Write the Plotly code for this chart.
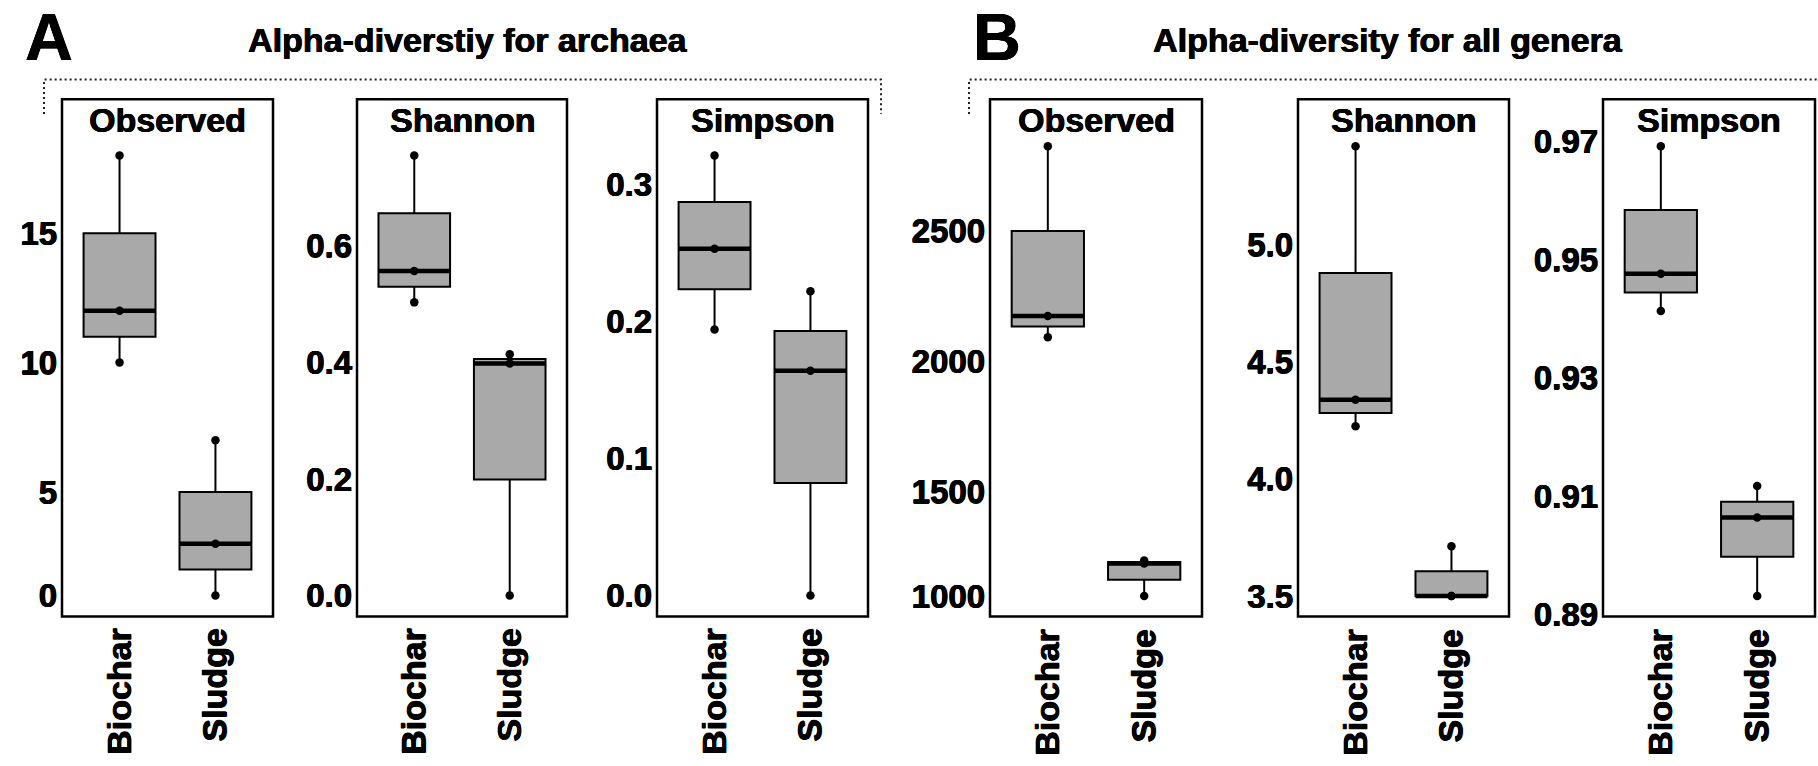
import numpy as np
import plotly.graph_objects as go

W, H = 1818, 766

# ---------------- data (3 samples per group) ----------------
groups = ["Biochar", "Sludge"]
metrics = ["Observed", "Shannon", "Simpson"]

archaea_observed_biochar = [10, 12, 18]
archaea_observed_sludge = [1, 3, 7]
archaea_shannon_biochar = [0.503, 0.557, 0.755]
archaea_shannon_sludge = [0.0, 0.398, 0.414]
archaea_simpson_biochar = [0.194, 0.253, 0.321]
archaea_simpson_sludge = [0.0, 0.164, 0.222]

genera_observed_biochar = [2092, 2173, 2823]
genera_observed_sludge = [1101, 1225, 1237]
genera_shannon_biochar = [4.225, 4.338, 5.42]
genera_shannon_sludge = [3.5, 3.5, 3.712]
genera_simpson_biochar = [0.9413, 0.9476, 0.9692]
genera_simpson_sludge = [0.8931, 0.9064, 0.9117]

# tick labels as printed in the figure
archaea_observed_tickvals = [1, 5, 10, 15]
archaea_observed_ticktext = ["0", "5", "10", "15"]
archaea_shannon_tickvals = [0.0, 0.2, 0.4, 0.6]
archaea_shannon_ticktext = ["0.0", "0.2", "0.4", "0.6"]
archaea_simpson_tickvals = [0.0, 0.1, 0.2, 0.3]
archaea_simpson_ticktext = ["0.0", "0.1", "0.2", "0.3"]
genera_observed_tickvals = [1100, 1500, 2000, 2500]
genera_observed_ticktext = ["1000", "1500", "2000", "2500"]
genera_shannon_tickvals = [3.5, 4.0, 4.5, 5.0]
genera_shannon_ticktext = ["3.5", "4.0", "4.5", "5.0"]
genera_simpson_tickvals = [0.89, 0.91, 0.93, 0.95, 0.97]
genera_simpson_ticktext = ["0.89", "0.91", "0.93", "0.95", "0.97"]

section_letters = ["A", "B"]
section_titles = ["Alpha-diverstiy for archaea", "Alpha-diversity for all genera"]

panels = [
    ("Observed", archaea_observed_biochar, archaea_observed_sludge, archaea_observed_tickvals, archaea_observed_ticktext),
    ("Shannon", archaea_shannon_biochar, archaea_shannon_sludge, archaea_shannon_tickvals, archaea_shannon_ticktext),
    ("Simpson", archaea_simpson_biochar, archaea_simpson_sludge, archaea_simpson_tickvals, archaea_simpson_ticktext),
    ("Observed", genera_observed_biochar, genera_observed_sludge, genera_observed_tickvals, genera_observed_ticktext),
    ("Shannon", genera_shannon_biochar, genera_shannon_sludge, genera_shannon_tickvals, genera_shannon_ticktext),
    ("Simpson", genera_simpson_biochar, genera_simpson_sludge, genera_simpson_tickvals, genera_simpson_ticktext),
]

# ---------------- layout geometry (pixels) ----------------
frames_x = [(62, 273), (357, 567), (657, 868), (990, 1202), (1298, 1509), (1603, 1815)]
frame_top, frame_bottom = 101, 628
plot_top = [136, 136, 136, 126, 126, 126]
plot_bottom = [629, 629, 629, 630, 630, 630]

FONT = "Liberation Sans"
FILL = "#A9A9A9"
HEAVY = "0.6px 0px 0px black, -0.3px 0px 0px black, 0px 0.4px 0px black"


def px(x):
    return x / W


def py(y):
    return 1 - y / H


def bold(size):
    return dict(family=FONT, size=size, color="black", weight="bold", shadow=HEAVY)


fig = go.Figure()
layout_axes = {}
shapes = []
annotations = []

for i, (metric, bio, slu, tv, tt) in enumerate(panels):
    k = i + 1
    xa = "x" if k == 1 else f"x{k}"
    ya = "y" if k == 1 else f"y{k}"
    data = [bio, slu]
    xs, ys = [], []
    for g, vals in enumerate(data):
        xs += [g + 1] * len(vals)
        ys += list(vals)

    fig.add_trace(go.Box(
        x=xs, y=ys, width=0.75, fillcolor=FILL,
        line=dict(color="black", width=2), whiskerwidth=0,
        boxpoints=False, quartilemethod="inclusive",
        xaxis=xa, yaxis=ya, hoverinfo="skip", showlegend=False,
    ))
    for g, vals in enumerate(data):
        med = float(np.median(vals))
        fig.add_trace(go.Scatter(
            x=[g + 1 - 0.375, g + 1 + 0.375], y=[med, med], mode="lines",
            line=dict(color="black", width=4.5), xaxis=xa, yaxis=ya,
            hoverinfo="skip", showlegend=False,
        ))
    fig.add_trace(go.Scatter(
        x=xs, y=ys, mode="markers", marker=dict(color="black", size=8.5),
        xaxis=xa, yaxis=ya, hoverinfo="skip", showlegend=False,
    ))

    lo, hi = min(ys), max(ys)
    pad = 0.05 * (hi - lo)
    l, r = frames_x[i]
    layout_axes["xaxis" if k == 1 else f"xaxis{k}"] = dict(
        domain=[px(l), px(r)], range=[0.4, 2.6], anchor=ya,
        tickmode="array", tickvals=[1, 2], ticktext=groups, tickangle=-90,
        showgrid=False, zeroline=False, showline=False, ticks="",
        ticklabelstandoff=3,
        tickfont=bold(34), fixedrange=True,
    )
    layout_axes["yaxis" if k == 1 else f"yaxis{k}"] = dict(
        domain=[py(plot_bottom[i]), py(plot_top[i])], range=[lo - pad, hi + pad],
        anchor=xa, tickmode="array", tickvals=tv, ticktext=tt,
        showgrid=False, zeroline=False, showline=False, ticks="",
        ticklabelstandoff=4,
        tickfont=bold(33), fixedrange=True,
    )
    shapes.append(dict(type="rect", xref="paper", yref="paper",
                       x0=px(l), x1=px(r), y0=py(frame_bottom), y1=py(frame_top),
                       line=dict(color="black", width=2.5), layer="above"))
    annotations.append(dict(xref="paper", yref="paper", x=px((l + r) / 2), y=py(122),
                            text=metric, showarrow=False, xanchor="center", yanchor="middle",
                            font=bold(34)))

# section letters and titles
letter_x = [49, 997]
title_x = [467, 1388]
for s in range(2):
    annotations.append(dict(xref="paper", yref="paper", x=px(letter_x[s]), y=py(38),
                            text=section_letters[s], showarrow=False, xanchor="center", yanchor="middle",
                            font=bold(66)))
    annotations.append(dict(xref="paper", yref="paper", x=px(title_x[s]), y=py(41),
                            text=section_titles[s], showarrow=False, xanchor="center", yanchor="middle",
                            font=bold(34)))

# dotted brackets
dot = dict(color="#222222", width=2, dash="2px,3px")
bracket_y0, bracket_y1 = 81, 116
shapes.append(dict(type="path", xref="paper", yref="paper",
                   path=f"M {px(44)},{py(bracket_y1)} L {px(44)},{py(bracket_y0)} L {px(881)},{py(bracket_y0)} L {px(881)},{py(bracket_y1)}",
                   line=dot))
shapes.append(dict(type="path", xref="paper", yref="paper",
                   path=f"M {px(969)},{py(bracket_y1)} L {px(969)},{py(bracket_y0)} L {px(1818)},{py(bracket_y0)}",
                   line=dot))

fig.update_layout(
    width=W, height=H, margin=dict(l=0, r=0, t=0, b=0),
    paper_bgcolor="white", plot_bgcolor="white", showlegend=False,
    shapes=shapes, annotations=annotations, **layout_axes,
)

fig.write_html("out.html")
